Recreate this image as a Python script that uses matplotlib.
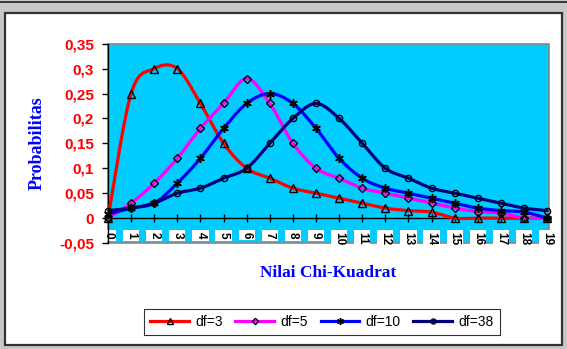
import numpy as np
import matplotlib
matplotlib.use("Agg")
import matplotlib.pyplot as plt
from matplotlib.patches import Rectangle

# values (x = 0..19)
x_vals = list(range(20))
df3 = [0, 0.25, 0.30, 0.30, 0.23, 0.15, 0.10, 0.08, 0.06, 0.05,
       0.04, 0.03, 0.02, 0.015, 0.012, 0, 0, 0, 0, 0]
df5 = [0, 0.03, 0.07, 0.12, 0.18, 0.23, 0.28, 0.23, 0.15, 0.10,
       0.08, 0.06, 0.05, 0.04, 0.03, 0.02, 0.013, 0.01, 0, 0]
df10 = [0.008, 0.02, 0.03, 0.07, 0.12, 0.18, 0.23, 0.25, 0.23, 0.18,
        0.12, 0.08, 0.06, 0.05, 0.04, 0.03, 0.02, 0.015, 0.012, 0]
df38 = [0.015, 0.02, 0.03, 0.05, 0.06, 0.08, 0.10, 0.15, 0.20, 0.23,
        0.20, 0.15, 0.10, 0.08, 0.06, 0.05, 0.04, 0.03, 0.02, 0.015]
labels = ["df=3", "df=5", "df=10", "df=38"]
y_ticks = [-0.05, 0, 0.05, 0.1, 0.15, 0.2, 0.25, 0.3, 0.35]


def smooth(x, y, n=16):
    # Catmull-Rom curve through the points (like Excel's smoothed line)
    pts = np.column_stack([x, y]).astype(float)
    p = np.vstack([pts[0], pts, pts[-1]])
    t = np.linspace(0, 1, n, endpoint=False)[:, None]
    segs = []
    for i in range(len(pts) - 1):
        p0, p1, p2, p3 = p[i], p[i + 1], p[i + 2], p[i + 3]
        seg = 0.5 * ((2 * p1) + (-p0 + p2) * t +
                     (2 * p0 - 5 * p1 + 4 * p2 - p3) * t ** 2 +
                     (-p0 + 3 * p1 - 3 * p2 + p3) * t ** 3)
        segs.append(seg)
    segs.append(pts[-1:])
    c = np.vstack(segs)
    return c[:, 0], c[:, 1]


fig = plt.figure(figsize=(5.67, 3.49), dpi=100, facecolor="#c8c8c8")
W, H = 567, 349

# window-ish frame
fig.patches.append(Rectangle((0, 1 - 3 / H), 1, 2 / H, transform=fig.transFigure,
                             facecolor="#3a3a3a", edgecolor="none", zorder=-10))
fig.patches.append(Rectangle((5 / W, 1 - 345 / H), 557 / W, 332 / H,
                             transform=fig.transFigure, facecolor="white",
                             edgecolor="#333333", linewidth=1.6, zorder=-10))

ax = fig.add_axes([108 / W, 1 - 243 / H, 441 / W, 199.3 / H])
ax.set_facecolor("#00ccff")
ax.set_xlim(0, 19.08)
ax.set_ylim(-0.05, 0.35)

ax.add_patch(Rectangle((0, 0), 1, 1, transform=ax.transAxes, fill=False,
                       edgecolor="#888888", linewidth=1.2, zorder=1, clip_on=False))

series = [(df3, "#ff0000", "^", 5.2, 1.0),
          (df5, "#ff00ff", "D", 4.0, 1.0),
          (df10, "#0000ff", (6, 2, 0), 6.2, 1.1),
          (df38, "#000080", "o", 4.5, 1.0)]

handles = []
for (vals, col, mk, ms, mew), lab in zip(series, labels):
    sx, sy = smooth(x_vals, vals)
    ax.plot(sx, sy, color=col, lw=2.3, zorder=3, solid_capstyle="round")
    ax.plot(x_vals, vals, ls="none", marker=mk, ms=ms, mfc="none",
            mec="black", mew=mew, zorder=4, clip_on=False)
    h, = ax.plot([], [], color=col, lw=2.3, marker=mk, ms=ms * 0.8,
                 mfc="none", mec="black", mew=mew)
    handles.append(h)

for s in ["top", "right"]:
    ax.spines[s].set_visible(False)
ax.spines["left"].set_color("black")
ax.spines["left"].set_linewidth(1.0)
ax.spines["bottom"].set_position(("data", 0))
ax.spines["bottom"].set_color("black")
ax.spines["bottom"].set_linewidth(1.0)

ax.set_yticks(y_ticks)
ax.set_yticklabels([("%g" % v).replace(".", ",") for v in y_ticks])
ax.tick_params(axis="y", direction="out", length=4, width=1, pad=6,
               labelcolor="#ff0000", labelsize=11)
for t in ax.get_yticklabels():
    t.set_fontweight("bold")
    t.set_family("Liberation Sans")

ax.set_xticks(x_vals)
ax.set_xticklabels([str(v) for v in x_vals], rotation=-90)
ax.tick_params(axis="x", direction="inout", length=6, width=1, pad=7,
               labelsize=8.5)
for t in ax.get_xticklabels():
    t.set_fontweight("bold")
    t.set_family("Liberation Sans")
    t.set_va("top")
    t.set_bbox(dict(facecolor="white", edgecolor="none", pad=1.5))

fig.text(37 / W, 1 - 143 / H, "Probabilitas", rotation=90, ha="center",
         va="center", color="#0000ff", fontsize=13, fontweight="bold",
         family="Liberation Serif")
fig.text(328 / W, 1 - 273 / H, "Nilai Chi-Kuadrat", ha="center", va="center",
         color="#0000ff", fontsize=12.5, fontweight="bold",
         family="Liberation Serif")

leg = fig.legend(handles, labels, loc="center",
                 bbox_to_anchor=(322 / W, 1 - 322 / H), ncol=4, frameon=True,
                 fancybox=False, shadow=False, handlelength=2.8,
                 handletextpad=0.45, columnspacing=0.9, borderpad=0.45,
                 numpoints=1, prop={"family": "Liberation Sans", "size": 10})
leg.get_frame().set_edgecolor("black")
leg.get_frame().set_linewidth(0.8)

fig.savefig("out.png", dpi=100, facecolor=fig.get_facecolor())
